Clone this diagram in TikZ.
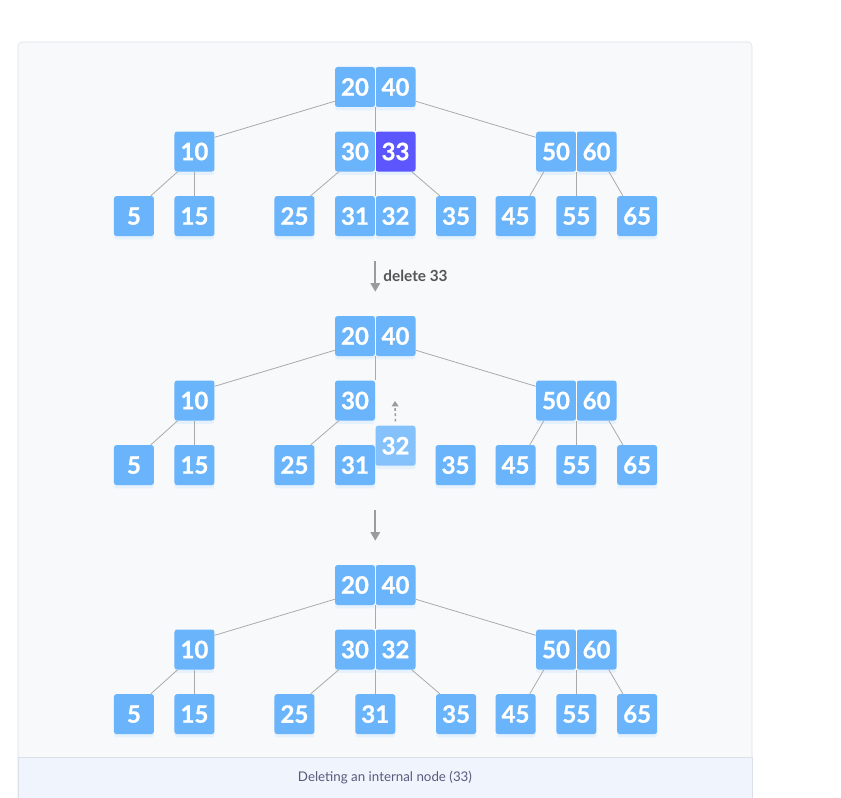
\documentclass[tikz,border=0pt]{standalone}
\usepackage{fontspec}
\setmainfont{Lato}
\newfontfamily\keyfont[FakeBold=0.8]{Lato Bold}
\usetikzlibrary{positioning, shadows, arrows.meta}

\definecolor{keyblue}{HTML}{6AB4FC}
\definecolor{keyhot}{HTML}{5C56FF}
\definecolor{keymoved}{HTML}{85C1FB}
\definecolor{edgegray}{HTML}{AAAAAA}
\definecolor{arrowgray}{HTML}{9B9B9B}
\definecolor{labelgray}{HTML}{555555}
\definecolor{panelbg}{HTML}{F8F9FB}
\definecolor{panelline}{HTML}{DCE1E9}
\definecolor{captionbg}{HTML}{F0F4FC}
\definecolor{captiontext}{HTML}{5A5A7C}

\begin{document}
\begin{tikzpicture}[
    x=0.75pt, y=-0.75pt,
    node distance=18pt,
    key/.style={rectangle, rounded corners=2pt, fill=keyblue, text=white,
        font=\keyfont\fontsize{18}{21}\selectfont,
        minimum width=30pt, minimum height=30pt, inner sep=0pt,
        drop shadow={shadow xshift=0pt, shadow yshift=-2.5pt, fill=keyblue!22, opacity=0.7}},
    hot/.style={key, fill=keyhot},
    moved/.style={key, fill=keymoved},
    link/.style={draw=edgegray, line width=0.6pt},
    divider/.style={draw=white, line width=0.8pt},
    stepdown/.style={draw=arrowgray, line width=1.6pt, -{Triangle[width=7pt,length=6.5pt]},
        shorten <=18.75pt, shorten >=18pt},
    moveup/.style={draw=arrowgray, line width=1.2pt, dash pattern=on 2pt off 2pt,
        -{Triangle[width=5pt,length=4pt]}, shorten <=3pt}
]

% Frame and caption
\useasboundingbox (0,0) rectangle (841,798);
\fill[white] (0,0) rectangle (841,798);
\draw[panelline, fill=panelbg, rounded corners=3pt] (18,42) rectangle (752,812);
\draw[panelline, fill=captionbg] (18,757) rectangle (752,812);
\node[font=\fontsize{10}{12}\selectfont, text=captiontext] (caption) at (385,778) {Deleting an internal node (33)};

% Tree before deletion
\node[key] (r1a) at (355,87) {20};
\node[key, right=0pt of r1a] (r1b) {40};
\node[key, below left=18pt and 90pt of r1a] (n1) {10};
\node[key, below=of r1a] (m1a) {30};
\node[hot, right=0pt of m1a] (m1b) {33};
\node[key, below right=18pt and 90pt of r1b] (p1a) {50};
\node[key, right=0pt of p1a] (p1b) {60};
\node[key, below left=18pt and 15pt of n1] (l1a) {5};
\node[key, below=of n1] (l1b) {15};
\node[key, below left=18pt and 15pt of m1a] (l1c) {25};
\node[key, below=of m1a] (l1d) {31};
\node[key, right=0pt of l1d] (l1e) {32};
\node[key, below right=18pt and 15pt of m1b] (l1f) {35};
\node[key, below left=18pt and 0pt of p1a] (l1g) {45};
\node[key, below=of p1a.south east] (l1h) {55};
\node[key, below right=18pt and 0pt of p1b] (l1i) {65};

\draw[divider] (r1a.north east) -- (r1a.south east);
\draw[divider] (m1a.north east) -- (m1a.south east);
\draw[divider] (p1a.north east) -- (p1a.south east);
\draw[divider] (l1d.north east) -- (l1d.south east);

\draw[link] ([yshift=4.5pt]r1a.south west) -- ([yshift=-4.5pt]n1.north east);
\draw[link] (r1a.south east) -- (m1a.north east);
\draw[link] ([yshift=4.5pt]r1b.south east) -- ([yshift=-4.5pt]p1a.north west);
\draw[link] ([xshift=2.5pt]n1.south west) -- ([xshift=-2.5pt]l1a.north east);
\draw[link] (n1) -- (l1b);
\draw[link] ([xshift=3pt]m1a.south west) -- ([xshift=-3pt]l1c.north east);
\draw[link] (m1a.south east) -- (l1d.north east);
\draw[link] ([xshift=-3pt]m1b.south east) -- ([xshift=3pt]l1f.north west);
\draw[link] ([xshift=6pt]p1a.south west) -- ([xshift=-4.5pt]l1g.north east);
\draw[link] (p1a.south east) -- (l1h.north);
\draw[link] ([xshift=-6pt]p1b.south east) -- ([xshift=4.5pt]l1i.north west);

% 32 moves up into the slot of 33
\node[key] (r2a) at (355,336) {20};
\node[key, right=0pt of r2a] (r2b) {40};
\node[key, below left=18pt and 90pt of r2a] (n2) {10};
\node[key, below=of r2a] (m2a) {30};
\node[moved, below right=3.5pt and 0pt of m2a] (m2b) {32};
\node[key, below right=18pt and 90pt of r2b] (p2a) {50};
\node[key, right=0pt of p2a] (p2b) {60};
\node[key, below left=18pt and 15pt of n2] (l2a) {5};
\node[key, below=of n2] (l2b) {15};
\node[key, below left=18pt and 15pt of m2a] (l2c) {25};
\node[key, below=of m2a] (l2d) {31};
\node[key, below right=18pt and 45pt of m2a] (l2f) {35};
\node[key, below left=18pt and 0pt of p2a] (l2g) {45};
\node[key, below=of p2a.south east] (l2h) {55};
\node[key, below right=18pt and 0pt of p2b] (l2i) {65};
\coordinate (slot) at (395,401);

\draw[divider] (r2a.north east) -- (r2a.south east);
\draw[divider] (p2a.north east) -- (p2a.south east);

\draw[link] ([yshift=4.5pt]r2a.south west) -- ([yshift=-4.5pt]n2.north east);
\draw[link] (r2a.south east) -- (m2a.north east);
\draw[link] ([yshift=4.5pt]r2b.south east) -- ([yshift=-4.5pt]p2a.north west);
\draw[link] ([xshift=2.5pt]n2.south west) -- ([xshift=-2.5pt]l2a.north east);
\draw[link] (n2) -- (l2b);
\draw[link] ([xshift=3pt]m2a.south west) -- ([xshift=-3pt]l2c.north east);
\draw[link] ([xshift=6pt]p2a.south west) -- ([xshift=-4.5pt]l2g.north east);
\draw[link] (p2a.south east) -- (l2h.north);
\draw[link] ([xshift=-6pt]p2b.south east) -- ([xshift=4.5pt]l2i.north west);
\draw[moveup] (m2b.north) -- (slot);

\draw[stepdown] (l1d.south east) -- node[right=2pt, text=labelgray, font=\fontsize{11.5}{13}\selectfont\bfseries] {delete 33} (r2a.north east);

% Tree after deletion
\node[key] (r3a) at (355,585) {20};
\node[key, right=0pt of r3a] (r3b) {40};
\node[key, below left=18pt and 90pt of r3a] (n3) {10};
\node[key, below=of r3a] (m3a) {30};
\node[key, right=0pt of m3a] (m3b) {32};
\node[key, below right=18pt and 90pt of r3b] (p3a) {50};
\node[key, right=0pt of p3a] (p3b) {60};
\node[key, below left=18pt and 15pt of n3] (l3a) {5};
\node[key, below=of n3] (l3b) {15};
\node[key, below left=18pt and 15pt of m3a] (l3c) {25};
\node[key, below=of m3a.south east] (l3d) {31};
\node[key, below right=18pt and 15pt of m3b] (l3f) {35};
\node[key, below left=18pt and 0pt of p3a] (l3g) {45};
\node[key, below=of p3a.south east] (l3h) {55};
\node[key, below right=18pt and 0pt of p3b] (l3i) {65};

\draw[divider] (r3a.north east) -- (r3a.south east);
\draw[divider] (m3a.north east) -- (m3a.south east);
\draw[divider] (p3a.north east) -- (p3a.south east);

\draw[link] ([yshift=4.5pt]r3a.south west) -- ([yshift=-4.5pt]n3.north east);
\draw[link] (r3a.south east) -- (m3a.north east);
\draw[link] ([yshift=4.5pt]r3b.south east) -- ([yshift=-4.5pt]p3a.north west);
\draw[link] ([xshift=2.5pt]n3.south west) -- ([xshift=-2.5pt]l3a.north east);
\draw[link] (n3) -- (l3b);
\draw[link] ([xshift=3pt]m3a.south west) -- ([xshift=-3pt]l3c.north east);
\draw[link] (m3a.south east) -- (l3d.north);
\draw[link] ([xshift=-3pt]m3b.south east) -- ([xshift=3pt]l3f.north west);
\draw[link] ([xshift=6pt]p3a.south west) -- ([xshift=-4.5pt]l3g.north east);
\draw[link] (p3a.south east) -- (l3h.north);
\draw[link] ([xshift=-6pt]p3b.south east) -- ([xshift=4.5pt]l3i.north west);

\draw[stepdown] (l2d.south east) -- (r3a.north east);

\end{tikzpicture}
\end{document}
